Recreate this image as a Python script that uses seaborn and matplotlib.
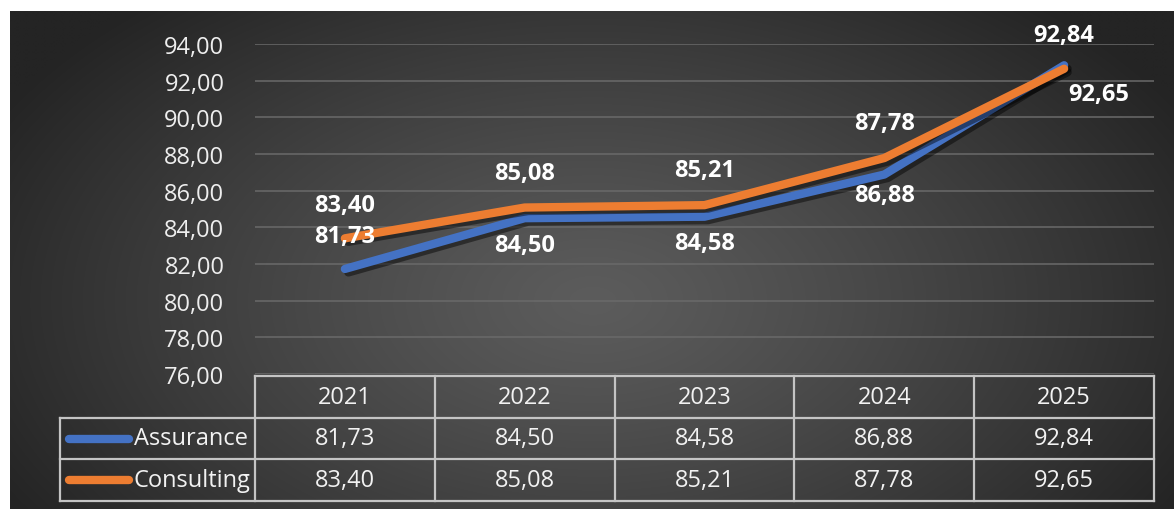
import numpy as np
import pandas as pd
import matplotlib
matplotlib.use("Agg")
import matplotlib.pyplot as plt
import matplotlib.patheffects as pe
from matplotlib.ticker import FuncFormatter
import seaborn as sns

years = ["2021", "2022", "2023", "2024", "2025"]
series_names = ["Assurance", "Consulting"]
assurance = [81.73, 84.50, 84.58, 86.88, 92.84]
consulting = [83.40, 85.08, 85.21, 87.78, 92.65]
colors = {"Assurance": "#4472C4", "Consulting": "#ED7D31"}

def fmt(v):
    return f"{v:.2f}".replace(".", ",")

df = pd.DataFrame({
    "year": years * 2,
    "value": assurance + consulting,
    "series": ["Assurance"] * 5 + ["Consulting"] * 5,
})

sns.set_style("dark")
plt.rcParams["font.family"] = ["Open Sans", "DejaVu Sans"]

W, H = 1174, 510
fig = plt.figure(figsize=(W / 100, H / 100), dpi=100)
fig.patch.set_facecolor("white")

# background panel with radial gradient
bg = fig.add_axes([10 / W, 0, (W - 10) / W, (H - 12) / H])
ny, nx = 250, 580
yy, xx = np.mgrid[0:ny, 0:nx]
cx, cy = nx * 0.5, ny * 0.58
r = np.sqrt(((xx - cx) / (nx * 0.58)) ** 2 + ((yy - cy) / (ny * 0.8)) ** 2)
r = np.clip(r, 0, 1)
light = np.array([0x5c, 0x5c, 0x5c]) / 255
dark = np.array([0x24, 0x24, 0x24]) / 255
t = r ** 1.2
img = light[None, None, :] * (1 - t[..., None]) + dark[None, None, :] * t[..., None]
bg.imshow(img, aspect="auto", extent=[0, 1, 0, 1], interpolation="bilinear")
bg.set_axis_off()
bg.set_zorder(0)

# main line axes
ax_left, ax_w = 255 / W, 899 / W
ax = fig.add_axes([ax_left, (H - 375) / H, ax_w, (375 - 45) / H])
ax.set_facecolor("none")
ax.set_zorder(2)
sns.lineplot(data=df, x="year", y="value", hue="series", palette=colors,
             linewidth=6, ax=ax, legend=False, sort=False,
             path_effects=[pe.SimpleLineShadow(offset=(2.5, -2.5), shadow_color="black", alpha=0.45),
                           pe.Normal()])
for line in ax.lines:
    line.set_solid_capstyle("round")
    line.set_solid_joinstyle("round")
ax.set_xlim(-0.5, 4.5)
ax.set_ylim(76, 94)
ax.set_yticks(np.arange(76, 95, 2))
ax.yaxis.set_major_formatter(FuncFormatter(lambda v, p: fmt(v)))
ax.tick_params(axis="y", colors="#eeeeee", labelsize=17, length=0, pad=22)
ax.tick_params(axis="x", bottom=False, labelbottom=False)
ax.set_xlabel("")
ax.set_ylabel("")
ax.grid(axis="y", color="#6a6a6a", linewidth=1.1)
ax.grid(axis="x", visible=False)
for s in ax.spines.values():
    s.set_visible(False)

# data labels (offsets in points)
a_offsets = [(0, 24), (0, -19), (0, -19), (0, -15), (0, 22)]
c_offsets = [(0, 24), (0, 25), (0, 25), (0, 25), (25, -18)]
for i in range(5):
    ax.annotate(fmt(assurance[i]), (i, assurance[i]), xytext=a_offsets[i],
                textcoords="offset points", ha="center", va="center",
                color="white", fontsize=17, fontweight="bold", annotation_clip=False)
    ax.annotate(fmt(consulting[i]), (i, consulting[i]), xytext=c_offsets[i],
                textcoords="offset points", ha="center", va="center",
                color="white", fontsize=17, fontweight="bold", annotation_clip=False)

# data table
tb_top, tb_bot = 377, 502
tab = fig.add_axes([ax_left, (H - tb_bot) / H, ax_w, (tb_bot - tb_top) / H])
tab.set_facecolor("none")
tab.set_zorder(3)
tab.set_xlim(-0.5, 4.5)
tab.set_ylim(3, 0)
tab.set_axis_off()
px_per_unit = 899 / 5
x_leg = -0.5 - (255 - 60) / px_per_unit
lc, lw = "#c4c4c4", 1.6
kw = dict(color=lc, linewidth=lw, clip_on=False, solid_capstyle="projecting")
tab.plot([-0.5, 4.5], [0, 0], **kw)
for yv in [1, 2, 3]:
    tab.plot([x_leg, 4.5], [yv, yv], **kw)
for xv in np.arange(-0.5, 5.0, 1.0):
    tab.plot([xv, xv], [0, 3], **kw)
tab.plot([x_leg, x_leg], [1, 3], **kw)

for i, y in enumerate(years):
    tab.text(i, 0.5, y, ha="center", va="center", color="#f2f2f2", fontsize=17)
    tab.text(i, 1.5, fmt(assurance[i]), ha="center", va="center", color="#f2f2f2", fontsize=17)
    tab.text(i, 2.5, fmt(consulting[i]), ha="center", va="center", color="#f2f2f2", fontsize=17)

sw0 = x_leg + (69 - 60) / px_per_unit
sw1 = x_leg + (129 - 60) / px_per_unit
txt_x = x_leg + (134 - 60) / px_per_unit
for r_i, name in enumerate(series_names):
    yc = 1.5 + r_i
    tab.plot([sw0, sw1], [yc, yc], color=colors[name], linewidth=6,
             solid_capstyle="round", clip_on=False)
    tab.text(txt_x, yc, name, ha="left", va="center", color="#f2f2f2", fontsize=17)

fig.savefig("out.png", dpi=100, facecolor=fig.get_facecolor())
